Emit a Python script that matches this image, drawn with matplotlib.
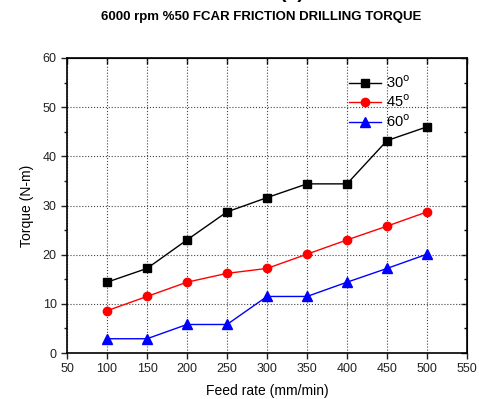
import matplotlib
matplotlib.use("Agg")
import matplotlib.pyplot as plt
from matplotlib.ticker import MultipleLocator

plt.rcParams['font.family'] = ['Liberation Sans', 'DejaVu Sans']

feed = [100, 150, 200, 250, 300, 350, 400, 450, 500]
t30 = [14.4, 17.2, 23.0, 28.7, 31.6, 34.4, 34.4, 43.2, 46.0]
t45 = [8.6, 11.5, 14.4, 16.2, 17.2, 20.1, 23.0, 25.8, 28.7]
t60 = [2.9, 2.9, 5.8, 5.8, 11.5, 11.5, 14.4, 17.2, 20.1]
labels = ['30$^{\\rm o}$', '45$^{\\rm o}$', '60$^{\\rm o}$']
title = '6000 rpm %50 FCAR FRICTION DRILLING TORQUE'

fig = plt.figure(figsize=(4.79, 3.99), dpi=100)
ax = fig.add_axes([67/479, 1-353/399, 400/479, 295/399])

ax.plot(feed, t30, '-s', color='black', lw=1, ms=5.5, label=labels[0])
ax.plot(feed, t45, '-o', color='red', lw=1, ms=6, label=labels[1])
ax.plot(feed, t60, '-^', color='blue', lw=1, ms=6.5, label=labels[2])

ax.set_xlim(50, 550)
ax.set_ylim(0, 60)
ax.xaxis.set_major_locator(MultipleLocator(50))
ax.yaxis.set_major_locator(MultipleLocator(10))
ax.yaxis.set_minor_locator(MultipleLocator(5))
ax.grid(True, which='major', linestyle=':', color='#444444', lw=0.8)
ax.tick_params(which='both', direction='out', labelsize=9, top=False, right=False, colors='#222222')
ax.tick_params(which='major', length=4, width=1)
ax.tick_params(which='minor', length=2.5, width=1)
for s in ax.spines.values():
    s.set_linewidth(1.2)

# inward ticks on top and right (Origin style)
axt = ax.secondary_xaxis('top')
axt.xaxis.set_major_locator(MultipleLocator(50))
axt.tick_params(direction='in', length=4, width=1, labeltop=False)
axr = ax.secondary_yaxis('right')
axr.yaxis.set_major_locator(MultipleLocator(10))
axr.yaxis.set_minor_locator(MultipleLocator(5))
axr.tick_params(which='both', direction='in', labelright=False)
axr.tick_params(which='major', length=4, width=1)
axr.tick_params(which='minor', length=2.5, width=1)

ax.set_xlabel('Feed rate (mm/min)', fontsize=10, labelpad=6)
ax.set_ylabel('Torque (N-m)', fontsize=10, labelpad=6)

leg = ax.legend(loc='upper right', bbox_to_anchor=(0.89, 0.99), frameon=False,
                fontsize=10.5, handlelength=2.2, handletextpad=0.3, labelspacing=0.2)

fig.text(0.545, 1-17/399, title, ha='center', va='center', fontsize=9.5, fontweight='bold')
fig.text(0.61, 1.006, '(c)', ha='center', va='baseline', fontsize=14, fontweight='bold')

fig.savefig('out.png', dpi=100)
